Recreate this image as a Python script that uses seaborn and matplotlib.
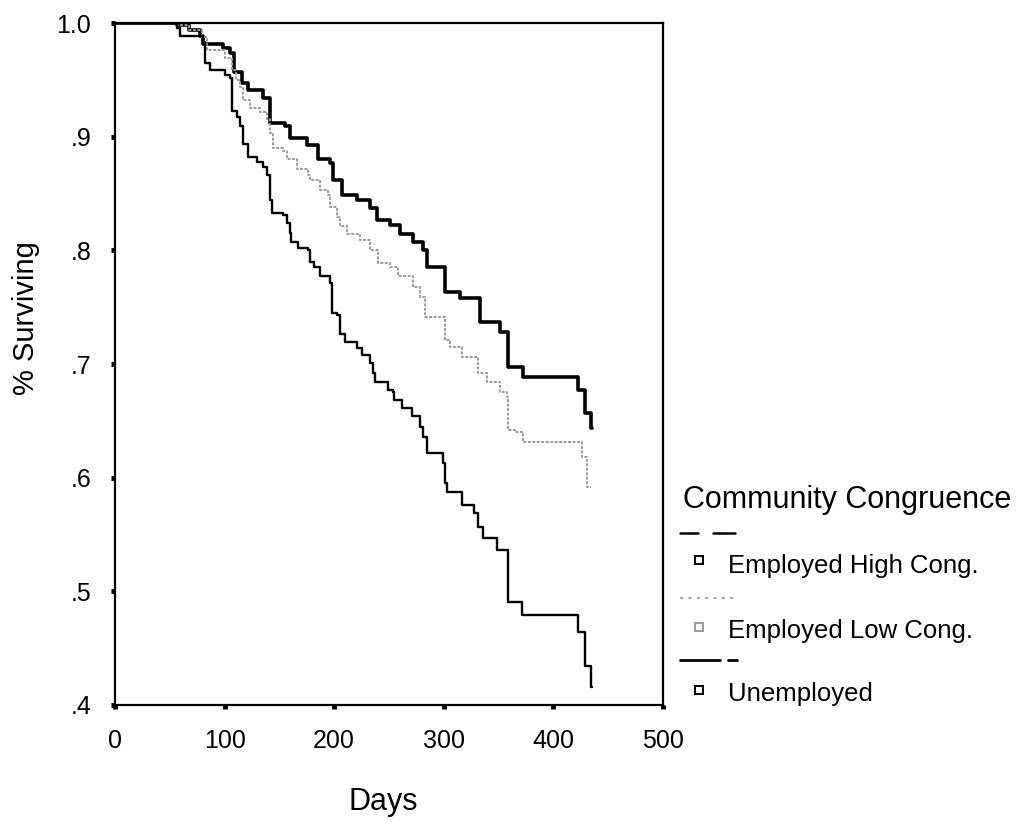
import numpy as np
import pandas as pd
import matplotlib
matplotlib.use("Agg")
import matplotlib.pyplot as plt
from matplotlib.lines import Line2D
import seaborn as sns

# ---- data ----
high_days = [0, 57, 68, 78, 80, 99, 105, 109, 116, 121, 135, 141, 155, 160, 175, 185, 196,
             199, 207, 221, 233, 239, 251, 260, 272, 281, 285, 301, 315, 333, 351, 359, 372,
             422, 429, 434, 435]
high_surv = [1.0, 0.998, 0.994, 0.989, 0.982, 0.978, 0.974, 0.957, 0.947, 0.941, 0.934, 0.912,
             0.909, 0.899, 0.893, 0.880, 0.877, 0.862, 0.849, 0.844, 0.837, 0.827, 0.822, 0.814,
             0.807, 0.800, 0.785, 0.763, 0.758, 0.737, 0.728, 0.697, 0.689, 0.677, 0.657, 0.644,
             0.644]

low_days = [0, 57, 68, 79, 84, 100, 107, 110, 114, 117, 123, 132, 139, 141, 144, 153, 157, 166,
            176, 178, 187, 194, 196, 203, 205, 212, 224, 233, 240, 251, 258, 272, 278, 283, 301,
            306, 317, 331, 339, 351, 358, 359, 365, 372, 426, 431, 434]
low_surv = [1.0, 0.998, 0.994, 0.988, 0.976, 0.969, 0.959, 0.950, 0.944, 0.932, 0.925, 0.922,
            0.916, 0.903, 0.890, 0.887, 0.880, 0.872, 0.866, 0.862, 0.853, 0.849, 0.838, 0.829,
            0.821, 0.814, 0.809, 0.800, 0.789, 0.785, 0.777, 0.768, 0.759, 0.741, 0.721, 0.715,
            0.706, 0.692, 0.684, 0.675, 0.671, 0.642, 0.640, 0.631, 0.618, 0.592, 0.592]

unemp_days = [0, 57, 59, 80, 82, 87, 100, 105, 107, 111, 114, 117, 121, 130, 135, 139, 141, 143,
              153, 157, 160, 161, 167, 176, 178, 182, 187, 196, 198, 203, 205, 210, 221, 225, 233,
              235, 237, 249, 254, 255, 262, 271, 278, 281, 285, 299, 301, 303, 317, 328, 331, 336,
              349, 359, 371, 422, 429, 434, 435]
unemp_surv = [1.0, 0.996, 0.989, 0.983, 0.965, 0.959, 0.954, 0.952, 0.923, 0.917, 0.909, 0.894,
              0.882, 0.878, 0.873, 0.866, 0.844, 0.833, 0.831, 0.824, 0.815, 0.807, 0.802, 0.800,
              0.790, 0.785, 0.777, 0.771, 0.745, 0.743, 0.726, 0.719, 0.714, 0.708, 0.701, 0.692,
              0.684, 0.677, 0.675, 0.668, 0.661, 0.654, 0.645, 0.636, 0.622, 0.613, 0.595, 0.587,
              0.576, 0.569, 0.557, 0.547, 0.536, 0.491, 0.479, 0.464, 0.434, 0.416, 0.416]

groups = ["Employed High Cong.", "Employed Low Cong.", "Unemployed"]
x_ticks = [0, 100, 200, 300, 400, 500]
y_ticks = [0.4, 0.5, 0.6, 0.7, 0.8, 0.9, 1.0]
y_tick_labels = [".4", ".5", ".6", ".7", ".8", ".9", "1.0"]

# ---- style ----
sns.set_style("white")
plt.rcParams["font.family"] = ["Liberation Sans", "DejaVu Sans"]
plt.rcParams["text.color"] = "black"
plt.rcParams["axes.labelcolor"] = "black"
plt.rcParams["xtick.color"] = "black"
plt.rcParams["ytick.color"] = "black"

fig = plt.figure(figsize=(10.2, 8.23), dpi=100)
ax = fig.add_axes([0.1127, 0.1434, 0.5373, 0.8286])

series = [
    (high_days, high_surv, dict(color="black", lw=2.6, linestyle="-")),
    (low_days, low_surv, dict(color="#9a9a9a", lw=1.4, linestyle=(0, (1.5, 0.8)))),
    (unemp_days, unemp_surv, dict(color="black", lw=1.7, linestyle="-")),
]
for (d, s, st), g in zip(series, groups):
    df = pd.DataFrame({"Days": d, "Surv": s})
    sns.lineplot(data=df, x="Days", y="Surv", drawstyle="steps-post", estimator=None,
                 ax=ax, legend=False, **st)

ax.set_xlim(0, 500)
ax.set_ylim(0.4, 1.0)
ax.set_xticks(x_ticks)
ax.set_xticklabels([str(t) for t in x_ticks])
ax.set_yticks(y_ticks)
ax.set_yticklabels(y_tick_labels)
ax.tick_params(axis="both", bottom=True, left=True, top=False, right=False,
               direction="out", length=3, width=3.5, color="black",
               labelcolor="black", labelsize=18)
ax.tick_params(axis="y", pad=14)
ax.tick_params(axis="x", pad=14)
for sp in ax.spines.values():
    sp.set_visible(True)
    sp.set_color("black")
    sp.set_linewidth(1.6)

ax.set_xlabel("Days", fontsize=22, color="black")
ax.set_ylabel("% Surviving", fontsize=21, color="black")
ax.xaxis.set_label_coords(0.49, -0.12)
ax.yaxis.set_label_coords(-0.137, 0.567)

# ---- SPSS-style legend ----
W, H = 1020.0, 823.0
def fx(px):
    return px / W
def fy(py):
    return 1 - py / H

fig.text(fx(683), fy(508), "Community Congruence", fontsize=22, va="baseline", ha="left")
legend_rows = [
    (533, 560, 573, [(680, 698), (713, 735)], dict(color="black", lw=1.8, ls="-"), "black"),
    (598, 627, 638, [(680, 735)], dict(color="#9a9a9a", lw=1.2, ls=(0, (2, 3))), "#9a9a9a"),
    (660, 690, 701, [(680, 720), (728, 737)], dict(color="black", lw=2.0, ls="-"), "black"),
]
for (ly, my, by, segs, lst, mc), g in zip(legend_rows, groups):
    for a, b in segs:
        fig.add_artist(Line2D([fx(a), fx(b)], [fy(ly), fy(ly)], transform=fig.transFigure,
                              color=lst["color"], lw=lst["lw"], ls=lst["ls"]))
    fig.add_artist(Line2D([fx(699)], [fy(my)], transform=fig.transFigure, marker="s",
                          markersize=6, markerfacecolor="white", markeredgecolor=mc,
                          markeredgewidth=1.4, ls="none"))
    fig.text(fx(728), fy(by), g, fontsize=18.5, va="baseline", ha="left")

fig.savefig("out.png", dpi=100)
